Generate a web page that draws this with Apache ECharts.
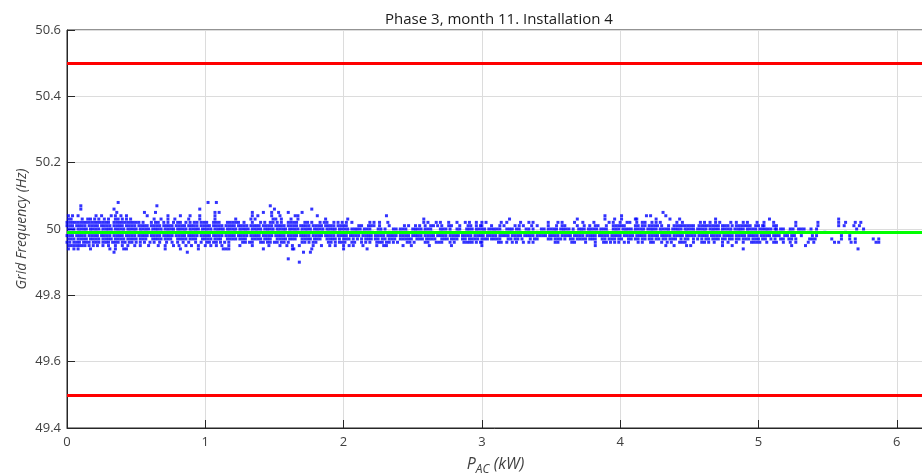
<!DOCTYPE html>
<html>
<head>
<meta charset="utf-8">
<script src="https://cdn.jsdelivr.net/npm/echarts@6/dist/echarts.min.js"></script>
<style>
  html, body { margin: 0; padding: 0; background: #fff; }
  #chart { width: 922px; height: 475px; }
</style>
</head>
<body>
<div id="chart"></div>
<script>
// P_AC (kW) readings, grouped by the quantised grid frequency (Hz) they sit on
const f5008 = [0.37, 1.02, 1.08];
const f5007 = [0.10, 0.65, 1.47];
const f5006 = [0.10, 0.34, 0.96, 1.50, 1.77];
const f5005 = [0.36, 0.56, 0.64, 1.07, 1.10, 1.34, 1.42, 1.48, 1.53, 1.60, 1.70, 4.31];
const f5004 = [0.01, 0.04, 0.08, 0.21, 0.25, 0.32, 0.35, 0.39, 0.43, 0.58, 0.73, 0.82, 0.89, 0.96, 1.07, 1.34, 1.38, 1.48,
  1.54, 1.65, 1.67, 1.81, 2.31, 3.89, 4.01, 4.19, 4.22, 4.33];
const f5003 = [0.01, 0.03, 0.11, 0.15, 0.17, 0.20, 0.23, 0.27, 0.30, 0.35, 0.37, 0.40, 0.43, 0.46, 0.63, 0.68, 0.73, 0.78,
  0.88, 0.96, 1.07, 1.22, 1.33, 1.36, 1.49, 1.51, 1.55, 1.62, 1.67, 1.87, 2.03, 2.58, 3.20, 3.69, 3.89, 3.96, 4.01, 4.11,
  4.12, 4.26, 4.36, 4.43, 4.69, 5.08, 5.58];
const f5002 = [0.00, 0.02, 0.04, 0.06, 0.08, 0.10, 0.12, 0.14, 0.16, 0.18, 0.20, 0.22, 0.24, 0.26, 0.28, 0.30, 0.34, 0.36,
  0.38, 0.40, 0.42, 0.44, 0.46, 0.48, 0.50, 0.52, 0.55, 0.61, 0.64, 0.66, 0.70, 0.73, 0.77, 0.80, 0.82, 0.86, 0.89, 0.92,
  0.94, 0.97, 0.99, 1.01, 1.06, 1.08, 1.10, 1.16, 1.18, 1.20, 1.22, 1.24, 1.28, 1.34, 1.40, 1.43, 1.47, 1.49, 1.52, 1.55,
  1.60, 1.62, 1.64, 1.66, 1.72, 1.74, 1.77, 1.83, 1.86, 1.88, 1.93, 1.96, 1.99, 2.02, 2.06, 2.19, 2.22, 2.26, 2.32, 2.58,
  2.61, 2.67, 2.70, 2.76, 2.82, 2.88, 2.91, 2.96, 3.00, 3.03, 3.14, 3.18, 3.28, 3.34, 3.37, 3.48, 3.55, 3.58, 3.67, 3.73,
  3.81, 3.92, 3.95, 4.00, 4.05, 4.07, 4.12, 4.16, 4.18, 4.23, 4.26, 4.29, 4.41, 4.45, 4.58, 4.61, 4.65, 4.69, 4.72, 4.80,
  4.84, 4.89, 4.92, 4.99, 5.04, 5.11, 5.27, 5.43, 5.58, 5.63, 5.70, 5.74];
const f5001 = [0.00, 0.02, 0.04, 0.07, 0.09, 0.11, 0.13, 0.16, 0.18, 0.20, 0.22, 0.25, 0.27, 0.29, 0.31, 0.34, 0.36, 0.38,
  0.40, 0.43, 0.45, 0.47, 0.49, 0.52, 0.54, 0.56, 0.58, 0.61, 0.63, 0.65, 0.67, 0.70, 0.72, 0.74, 0.76, 0.79, 0.81, 0.83,
  0.85, 0.88, 0.90, 0.92, 0.94, 0.97, 0.99, 1.01, 1.03, 1.06, 1.08, 1.10, 1.12, 1.15, 1.17, 1.19, 1.21, 1.24, 1.26, 1.28,
  1.30, 1.33, 1.35, 1.37, 1.39, 1.42, 1.44, 1.46, 1.48, 1.51, 1.53, 1.55, 1.57, 1.60, 1.62, 1.64, 1.66, 1.69, 1.71, 1.73,
  1.75, 1.78, 1.80, 1.82, 1.84, 1.87, 1.89, 1.91, 1.93, 1.96, 1.98, 2.00, 2.02, 2.11, 2.13, 2.18, 2.20, 2.22, 2.26, 2.33,
  2.44, 2.47, 2.52, 2.55, 2.59, 2.63, 2.65, 2.68, 2.71, 2.76, 2.78, 2.84, 2.90, 2.92, 2.96, 2.99, 3.00, 3.07, 3.13, 3.16,
  3.24, 3.27, 3.30, 3.36, 3.40, 3.48, 3.54, 3.58, 3.60, 3.69, 3.74, 3.78, 3.82, 3.84, 3.90, 3.95, 3.97, 3.99, 4.01, 4.03,
  4.11, 4.13, 4.16, 4.18, 4.21, 4.23, 4.25, 4.27, 4.30, 4.35, 4.39, 4.41, 4.43, 4.45, 4.47, 4.49, 4.51, 4.53, 4.57, 4.59,
  4.61, 4.63, 4.65, 4.67, 4.69, 4.71, 4.74, 4.76, 4.78, 4.81, 4.84, 4.86, 4.88, 4.90, 4.92, 4.94, 4.98, 5.00, 5.03, 5.04,
  5.11, 5.13, 5.27, 5.43, 5.58, 5.62, 5.69, 5.73];
const f5000 = [0.01, 0.03, 0.05, 0.08, 0.10, 0.12, 0.14, 0.17, 0.19, 0.21, 0.23, 0.26, 0.28, 0.30, 0.32, 0.35, 0.37, 0.39,
  0.41, 0.44, 0.46, 0.48, 0.50, 0.53, 0.55, 0.57, 0.59, 0.62, 0.64, 0.66, 0.68, 0.71, 0.73, 0.75, 0.77, 0.80, 0.82, 0.84,
  0.86, 0.89, 0.91, 0.93, 0.95, 0.98, 1.00, 1.02, 1.04, 1.07, 1.09, 1.11, 1.13, 1.16, 1.18, 1.20, 1.22, 1.25, 1.27, 1.29,
  1.31, 1.34, 1.36, 1.38, 1.40, 1.43, 1.45, 1.47, 1.49, 1.52, 1.54, 1.56, 1.58, 1.61, 1.63, 1.65, 1.67, 1.70, 1.72, 1.74,
  1.76, 1.79, 1.81, 1.83, 1.85, 1.88, 1.90, 1.92, 1.94, 1.97, 1.99, 2.01, 2.03, 2.06, 2.08, 2.10, 2.12, 2.15, 2.17, 2.19,
  2.25, 2.27, 2.30, 2.36, 2.38, 2.41, 2.43, 2.45, 2.50, 2.52, 2.54, 2.56, 2.59, 2.61, 2.63, 2.70, 2.72, 2.74, 2.77, 2.82,
  2.84, 2.89, 2.91, 2.93, 2.96, 2.98, 3.00, 3.02, 3.05, 3.07, 3.09, 3.11, 3.13, 3.18, 3.20, 3.22, 3.25, 3.27, 3.32, 3.34,
  3.37, 3.43, 3.45, 3.48, 3.50, 3.52, 3.54, 3.57, 3.59, 3.61, 3.63, 3.66, 3.70, 3.72, 3.74, 3.77, 3.79, 3.81, 3.83, 3.86,
  3.88, 3.90, 3.95, 3.97, 3.99, 4.02, 4.04, 4.06, 4.08, 4.11, 4.13, 4.15, 4.17, 4.20, 4.22, 4.24, 4.26, 4.29, 4.31, 4.33,
  4.35, 4.38, 4.40, 4.42, 4.44, 4.47, 4.49, 4.51, 4.53, 4.56, 4.58, 4.60, 4.62, 4.65, 4.67, 4.69, 4.71, 4.74, 4.76, 4.78,
  4.80, 4.83, 4.85, 4.87, 4.89, 4.92, 4.94, 4.96, 4.98, 5.01, 5.03, 5.05, 5.07, 5.09, 5.12, 5.13, 5.16, 5.18, 5.23, 5.25,
  5.29, 5.31, 5.33, 5.38, 5.42, 5.71, 5.76];
const f4999 = [0.01, 0.05, 0.09, 0.13, 0.17, 0.21, 0.25, 0.29, 0.33, 0.37, 0.41, 0.45, 0.49, 0.53, 0.57, 0.61, 0.65, 0.69,
  0.73, 0.77, 0.81, 0.85, 0.89, 0.93, 0.97, 1.01, 1.05, 1.09, 1.13, 1.17, 1.21, 1.25, 1.29, 1.33, 1.37, 1.41, 1.45, 1.49,
  1.53, 1.57, 1.61, 1.65, 1.69, 1.73, 1.77, 1.81, 1.85, 1.89, 1.93, 1.97, 2.03, 2.09, 2.14, 2.21, 2.27, 2.33, 2.40, 2.46,
  2.52, 2.58, 2.64, 2.71, 2.77, 2.83, 2.90, 2.96, 3.02, 3.09, 3.15, 3.21, 3.28, 3.34, 3.40, 3.47, 3.53, 3.59, 3.66, 3.72,
  3.78, 3.85, 3.91, 3.97, 4.04, 4.10, 4.16, 4.23, 4.29, 4.35, 4.42, 4.48, 4.54, 4.61, 4.67, 4.73, 4.80, 4.86, 4.92, 4.99,
  5.06, 5.14, 5.22, 5.36, 5.48, 5.63];
const f4998 = [0.00, 0.02, 0.04, 0.07, 0.09, 0.11, 0.13, 0.16, 0.18, 0.20, 0.22, 0.25, 0.27, 0.29, 0.31, 0.34, 0.36, 0.38,
  0.40, 0.43, 0.45, 0.47, 0.49, 0.52, 0.54, 0.56, 0.58, 0.61, 0.63, 0.65, 0.67, 0.70, 0.72, 0.74, 0.76, 0.79, 0.81, 0.83,
  0.85, 0.88, 0.90, 0.92, 0.94, 0.97, 0.99, 1.01, 1.03, 1.06, 1.08, 1.10, 1.12, 1.15, 1.17, 1.19, 1.21, 1.24, 1.26, 1.28,
  1.30, 1.33, 1.35, 1.37, 1.39, 1.42, 1.44, 1.46, 1.48, 1.51, 1.53, 1.55, 1.57, 1.60, 1.62, 1.64, 1.66, 1.69, 1.71, 1.73,
  1.75, 1.78, 1.80, 1.82, 1.84, 1.87, 1.89, 1.91, 1.93, 1.96, 1.98, 2.00, 2.02, 2.05, 2.07, 2.09, 2.11, 2.14, 2.16, 2.18,
  2.20, 2.23, 2.25, 2.27, 2.29, 2.32, 2.34, 2.36, 2.38, 2.41, 2.43, 2.45, 2.47, 2.50, 2.52, 2.54, 2.56, 2.59, 2.61, 2.63,
  2.65, 2.68, 2.70, 2.72, 2.74, 2.77, 2.79, 2.81, 2.83, 2.86, 2.88, 2.90, 2.92, 2.95, 2.97, 2.99, 3.01, 3.04, 3.06, 3.08,
  3.10, 3.13, 3.15, 3.17, 3.19, 3.22, 3.24, 3.26, 3.28, 3.31, 3.33, 3.35, 3.37, 3.40, 3.42, 3.44, 3.46, 3.49, 3.51, 3.53,
  3.55, 3.58, 3.60, 3.62, 3.64, 3.67, 3.69, 3.71, 3.73, 3.76, 3.78, 3.80, 3.82, 3.85, 3.87, 3.89, 3.91, 3.94, 3.96, 3.98,
  4.00, 4.03, 4.05, 4.07, 4.09, 4.12, 4.14, 4.16, 4.18, 4.21, 4.23, 4.25, 4.27, 4.30, 4.32, 4.34, 4.36, 4.39, 4.41, 4.43,
  4.45, 4.48, 4.50, 4.52, 4.54, 4.57, 4.59, 4.61, 4.63, 4.66, 4.68, 4.70, 4.72, 4.75, 4.77, 4.79, 4.81, 4.84, 4.86, 4.88,
  4.90, 4.93, 4.95, 4.97, 4.99, 5.02, 5.04, 5.06, 5.08, 5.11, 5.13, 5.15, 5.19, 5.21, 5.24, 5.26, 5.31, 5.39, 5.42, 5.60,
  5.66];
const f4997 = [0.01, 0.03, 0.05, 0.08, 0.10, 0.12, 0.14, 0.17, 0.19, 0.21, 0.23, 0.26, 0.28, 0.30, 0.32, 0.35, 0.37, 0.39,
  0.41, 0.44, 0.46, 0.48, 0.50, 0.53, 0.55, 0.57, 0.62, 0.64, 0.66, 0.68, 0.71, 0.73, 0.75, 0.80, 0.82, 0.84, 0.86, 0.89,
  0.91, 0.93, 0.98, 1.00, 1.02, 1.04, 1.07, 1.09, 1.11, 1.16, 1.18, 1.20, 1.22, 1.25, 1.27, 1.29, 1.34, 1.36, 1.38, 1.40,
  1.43, 1.45, 1.47, 1.52, 1.54, 1.56, 1.58, 1.61, 1.63, 1.65, 1.70, 1.72, 1.74, 1.76, 1.79, 1.81, 1.83, 1.88, 1.90, 1.92,
  1.94, 1.97, 2.00, 2.02, 2.04, 2.07, 2.10, 2.13, 2.16, 2.18, 2.20, 2.23, 2.25, 2.28, 2.30, 2.33, 2.35, 2.37, 2.41, 2.43,
  2.45, 2.47, 2.49, 2.53, 2.55, 2.57, 2.60, 2.62, 2.64, 2.66, 2.71, 2.73, 2.75, 2.78, 2.80, 2.82, 2.86, 2.88, 2.91, 2.93,
  2.95, 2.97, 3.00, 3.02, 3.04, 3.07, 3.09, 3.11, 3.13, 3.19, 3.21, 3.24, 3.26, 3.29, 3.35, 3.38, 3.40, 3.48, 3.50, 3.53,
  3.55, 3.57, 3.60, 3.64, 3.66, 3.69, 3.71, 3.73, 3.75, 3.78, 3.80, 3.82, 3.87, 3.89, 3.92, 3.94, 3.96, 3.99, 4.01, 4.06,
  4.08, 4.11, 4.13, 4.16, 4.18, 4.21, 4.23, 4.26, 4.28, 4.31, 4.33, 4.36, 4.38, 4.40, 4.44, 4.47, 4.49, 4.53, 4.56, 4.59,
  4.62, 4.64, 4.67, 4.69, 4.71, 4.74, 4.76, 4.79, 4.81, 4.84, 4.86, 4.89, 4.91, 4.93, 4.96, 4.98, 5.00, 5.03, 5.05, 5.09,
  5.12, 5.16, 5.18, 5.22, 5.24, 5.27, 5.37, 5.39, 5.41, 5.53, 5.60, 5.66, 5.70, 5.83, 5.87];
const f4996 = [0.00, 0.02, 0.05, 0.07, 0.09, 0.12, 0.14, 0.16, 0.19, 0.21, 0.23, 0.26, 0.28, 0.30, 0.33, 0.35, 0.37, 0.40,
  0.42, 0.45, 0.47, 0.50, 0.53, 0.56, 0.60, 0.63, 0.67, 0.72, 0.76, 0.80, 0.84, 0.88, 0.93, 0.97, 1.01, 1.03, 1.06, 1.08,
  1.11, 1.14, 1.17, 1.27, 1.29, 1.32, 1.34, 1.40, 1.42, 1.45, 1.47, 1.50, 1.52, 1.55, 1.57, 1.60, 1.70, 1.72, 1.75, 1.78,
  1.80, 1.89, 1.91, 1.94, 1.97, 1.99, 2.01, 2.06, 2.08, 2.13, 2.16, 2.19, 2.24, 2.26, 2.28, 2.31, 2.33, 2.36, 2.39, 2.46,
  2.48, 2.51, 2.59, 2.61, 2.67, 2.69, 2.71, 2.77, 2.80, 2.87, 2.89, 2.91, 2.93, 2.96, 2.99, 3.00, 3.12, 3.14, 3.18, 3.22,
  3.25, 3.30, 3.34, 3.37, 3.53, 3.55, 3.65, 3.67, 3.75, 3.82, 3.88, 3.90, 3.93, 3.96, 3.99, 4.03, 4.06, 4.13, 4.16, 4.22,
  4.24, 4.30, 4.34, 4.37, 4.43, 4.45, 4.47, 4.53, 4.59, 4.61, 4.64, 4.68, 4.74, 4.78, 4.84, 4.89, 4.95, 4.97, 4.99, 5.01,
  5.06, 5.11, 5.13, 5.18, 5.23, 5.27, 5.36, 5.40, 5.55, 5.58, 5.67, 5.70, 5.85, 5.87];
const f4995 = [0.01, 0.03, 0.05, 0.07, 0.09, 0.11, 0.13, 0.16, 0.19, 0.22, 0.26, 0.30, 0.35, 0.40, 0.44, 0.49, 0.53, 0.59,
  0.66, 0.71, 0.77, 0.81, 0.86, 0.90, 0.95, 1.00, 1.04, 1.08, 1.12, 1.17, 1.25, 1.34, 1.46, 1.54, 1.59, 1.63, 1.68, 1.78,
  1.84, 1.90, 1.94, 2.00, 2.04, 2.07, 2.14, 2.24, 2.29, 2.31, 2.43, 2.49, 2.62, 2.78, 3.00, 3.82, 4.33, 4.39, 4.48, 4.51,
  4.74, 4.81, 5.24, 5.34];
const f4994 = [0.01, 0.05, 0.08, 0.17, 0.31, 0.35, 0.41, 0.43, 0.71, 0.82, 0.95, 1.13, 1.15, 1.17, 1.42, 1.63, 1.64, 1.77,
  2.00, 2.17, 4.89, 5.72];
const f4993 = [0.34, 0.87, 1.71, 1.76];
const f4991 = [1.60];
const f4990 = [1.68];

const freqRows = [
  [50.08, f5008], [50.07, f5007], [50.06, f5006], [50.05, f5005], [50.04, f5004], [50.03, f5003],
  [50.02, f5002], [50.01, f5001], [50.00, f5000], [49.99, f4999], [49.98, f4998], [49.97, f4997],
  [49.96, f4996], [49.95, f4995], [49.94, f4994], [49.93, f4993], [49.91, f4991], [49.90, f4990]
];
const limitLines = [50.5, 49.5];
const meanFreq = 49.986;
const yTicks = { min: 49.4, max: 50.6, step: 0.2 };
const xTicks = { min: 0, max: 6.197, step: 1 };

const points = [];
freqRows.forEach(([f, xs]) => xs.forEach((p) => points.push([p, f])));

const font = "'Open Sans', 'Noto Sans', sans-serif";
const axisCol = "#262626";
const textCol = "#404040";

const chart = echarts.init(document.getElementById("chart"));
chart.setOption({
  animation: false,
  title: {
    text: "Phase 3, month 11. Installation 4",
    left: 494,
    textAlign: "center",
    top: 7,
    textStyle: { fontFamily: font, fontSize: 15, fontWeight: "normal", color: "#1a1a1a" },
  },
  grid: {
    left: 67,
    right: -2,
    top: 30,
    bottom: 47,
    outerBoundsMode: "none",
    show: true,
    borderColor: axisCol,
    borderWidth: 1,
  },
  xAxis: {
    type: "value",
    min: xTicks.min,
    max: xTicks.max,
    interval: xTicks.step,
    name: "{p|P}{sub|AC}{p| (kW)}",
    nameLocation: "middle",
    nameGap: 24,
    nameMoveOverlap: false,
    nameTextStyle: {
      rich: {
        p: { fontFamily: font, fontSize: 16, fontStyle: "italic", color: textCol },
        sub: { fontFamily: font, fontSize: 12, fontStyle: "italic", color: textCol, padding: [12, 0, 0, 0] },
      },
    },
    axisLine: { show: true, lineStyle: { color: axisCol } },
    axisTick: { show: true, inside: true, length: 8, lineStyle: { color: axisCol } },
    axisLabel: { fontFamily: font, fontSize: 13, color: textCol, margin: 8, showMaxLabel: false },
    splitLine: { show: true, lineStyle: { color: "#dcdcdc", width: 1 } },
  },
  yAxis: {
    type: "value",
    min: yTicks.min,
    max: yTicks.max,
    interval: yTicks.step,
    name: "Grid Frequency (Hz)",
    nameLocation: "middle",
    nameGap: 38,
    nameMoveOverlap: false,
    nameTextStyle: { fontFamily: font, fontSize: 14, fontStyle: "italic", color: textCol },
    axisLine: { show: true, lineStyle: { color: axisCol } },
    axisTick: { show: true, inside: true, length: 8, lineStyle: { color: axisCol } },
    axisLabel: {
      fontFamily: font,
      fontSize: 13,
      color: textCol,
      margin: 6,
      formatter: (v) => String(Math.round(v * 10) / 10),
    },
    splitLine: { show: true, lineStyle: { color: "#dcdcdc", width: 1 } },
  },
  series: [
    {
      type: "scatter",
      data: points,
      symbol: "rect",
      symbolSize: 3,
      itemStyle: { color: "#0000ff" },
      silent: true,
      z: 2,
    },
    {
      type: "line",
      data: [],
      z: 5,
      silent: true,
      markLine: {
        silent: true,
        symbol: "none",
        label: { show: false },
        animation: false,
        data: [
          ...limitLines.map((v) => ({ yAxis: v, lineStyle: { color: "#ff0000", width: 3, type: "solid" } })),
          { yAxis: meanFreq, lineStyle: { color: "#00ff00", width: 3, type: "solid" } },
        ],
      },
    },
  ],
});
</script>
</body>
</html>
